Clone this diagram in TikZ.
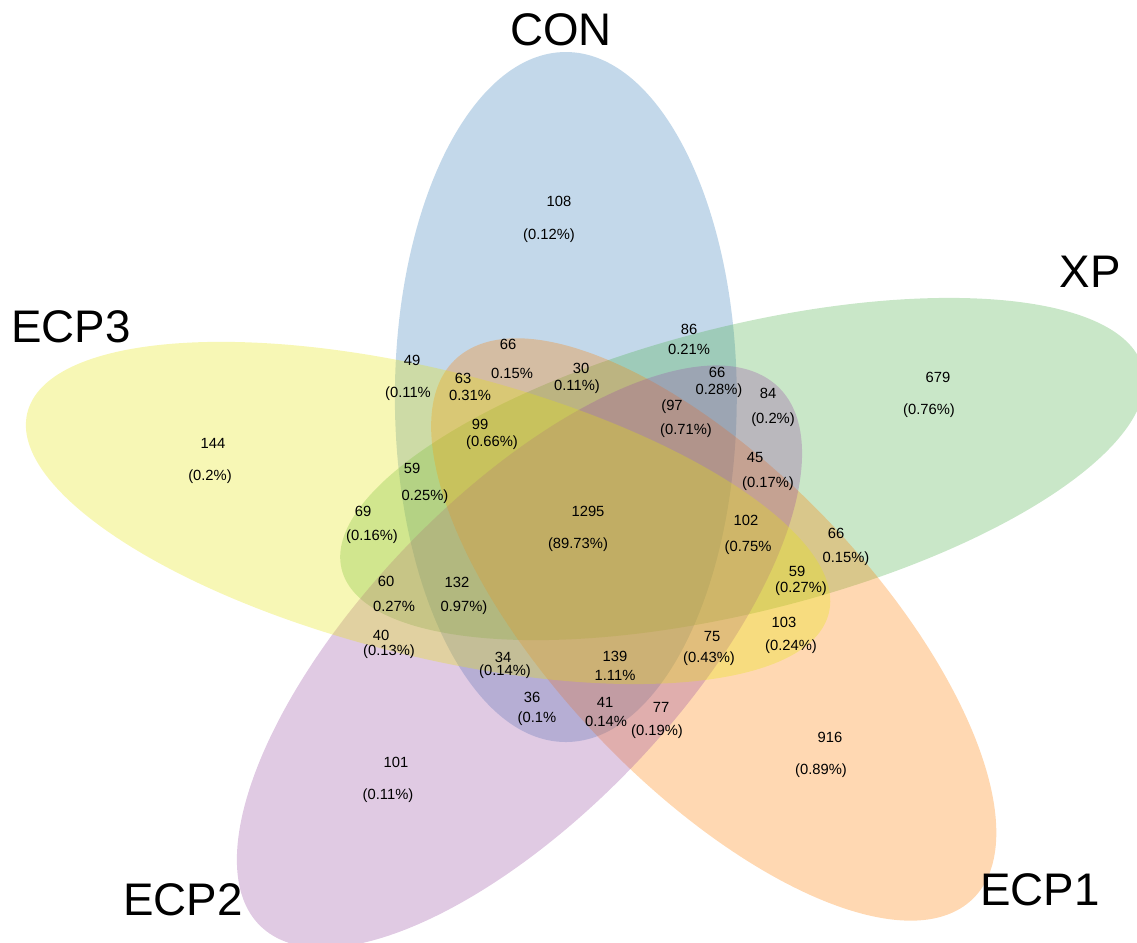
\documentclass[tikz,border=0pt]{standalone}
\usepackage{fontspec}
\setmainfont{Liberation Sans}
\usetikzlibrary{positioning}
\definecolor{conblue}{RGB}{55,126,184}
\definecolor{xpgreen}{RGB}{77,175,74}
\definecolor{ecporange}{RGB}{255,127,0}
\definecolor{ecppurple}{RGB}{152,78,163}
\definecolor{ecpyellow}{RGB}{230,228,10}
\begin{document}
\begin{tikzpicture}[x=0.1mm,y=-0.1mm,
  petal/.style={fill opacity=0.3},
  cnt/.style={font=\fontsize{4.2}{5}\selectfont, inner sep=0pt},
  setname/.style={font=\fontsize{13}{15}\selectfont, inner sep=0pt}]
\useasboundingbox (0,0) rectangle (1137,942);
% the five petals, CON turned round the common centre
\begin{scope}[xscale=1.215]
\fill[conblue,petal] (465.7,397) ellipse [x radius=140.7, y radius=345];
\fill[xpgreen,petal,rotate around={-72:(488.8,533)}] (465.7,397) ellipse [x radius=140.7, y radius=345];
\fill[ecporange,petal,rotate around={-144:(488.8,533)}] (465.7,397) ellipse [x radius=140.7, y radius=345];
\fill[ecppurple,petal,rotate around={144:(488.8,533)}] (465.7,397) ellipse [x radius=140.7, y radius=345];
\fill[ecpyellow,petal,rotate around={72:(488.8,533)}] (465.7,397) ellipse [x radius=140.7, y radius=345];
\end{scope}
% set names
\node[setname] (con) at (561,30) {CON};  \node[setname] (xp) at (1090,272) {XP};
\node[setname] (ecp3) at (71,327) {ECP3}; \node[setname] (ecp2) at (183,900) {ECP2}; \node[setname] (ecp1) at (1040,890) {ECP1};
% single sets
\node[cnt] (n108) at (559,201) {108};  \node[cnt] (p108) at (549,236) {(0.12\%)};
\node[cnt] (n679) at (938,377) {679};  \node[cnt] (p679) at (929,411) {(0.76\%)};
\node[cnt] (n144) at (213,443) {144};  \node[cnt] (p144) at (210,477) {(0.2\%)};
\node[cnt] (n101) at (396,762) {101};  \node[cnt] (p101) at (388,796) {(0.11\%)};
\node[cnt] (n916) at (830,737) {916};  \node[cnt] (p916) at (821,771) {(0.89\%)};
% overlaps
\node[cnt] (n86) at (689,329) {86};    \node[cnt] (p86) at (689,349) {0.21\%};
\node[cnt] (n49) at (412,360) {49};    \node[cnt] (p49) at (408,394) {(0.11\%};
\node[cnt] (n66a) at (508,344) {66};   \node[cnt] (p66a) at (512,373) {0.15\%};
\node[cnt] (n63) at (463,378) {63};    \node[cnt] (p63) at (470,395) {0.31\%};
\node[cnt] (n30) at (581,368) {30};    \node[cnt] (p30) at (577,387) {0.11\%)};
\node[cnt] (n66b) at (717,372) {66};   \node[cnt] (p66b) at (719,391) {0.28\%)};
\node[cnt] (n84) at (768,393) {84};    \node[cnt] (p84) at (773,420) {(0.2\%)};
\node[cnt] (n97) at (672,407) {(97};   \node[cnt] (p97) at (686,431) {(0.71\%)};
\node[cnt] (n99) at (480,424) {99};    \node[cnt] (p99) at (492,443) {(0.66\%)};
\node[cnt] (n45) at (755,457) {45};    \node[cnt] (p45) at (768,484) {(0.17\%)};
\node[cnt] (n59a) at (412,468) {59};   \node[cnt] (p59a) at (425,497) {0.25\%)};
\node[cnt] (n69) at (363,511) {69};    \node[cnt] (p69) at (372,537) {(0.16\%)};
\node[cnt] (n1295) at (588,511) {1295}; \node[cnt] (p1295) at (578,545) {(89.73\%)};
\node[cnt] (n102) at (746,520) {102};  \node[cnt] (p102) at (748,548) {(0.75\%};
\node[cnt] (n66c) at (836,533) {66};   \node[cnt] (p66c) at (846,559) {0.15\%)};
\node[cnt] (n60) at (386,581) {60};    \node[cnt] (p60) at (394,606) {0.27\%};
\node[cnt] (n132) at (457,582) {132};  \node[cnt] (p132) at (464,608) {0.97\%)};
\node[cnt] (n59b) at (797,571) {59};   \node[cnt] (p59b) at (801,589) {(0.27\%)};
\node[cnt] (n40) at (381,635) {40};    \node[cnt] (p40) at (389,652) {(0.13\%)};
\node[cnt] (n103) at (784,622) {103};  \node[cnt] (p103) at (791,647) {(0.24\%)};
\node[cnt] (n75) at (712,636) {75};    \node[cnt] (p75) at (709,659) {(0.43\%)};
\node[cnt] (n139) at (615,656) {139};  \node[cnt] (p139) at (615,675) {1.11\%};
\node[cnt] (n34) at (503,657) {34};    \node[cnt] (p34) at (505,672) {(0.14\%)};
\node[cnt] (n36) at (532,697) {36};    \node[cnt] (p36) at (537,719) {(0.1\%};
\node[cnt] (n41) at (605,702) {41};    \node[cnt] (p41) at (606,721) {0.14\%};
\node[cnt] (n77) at (661,707) {77};    \node[cnt] (p77) at (657,732) {(0.19\%)};
\end{tikzpicture}
\end{document}
